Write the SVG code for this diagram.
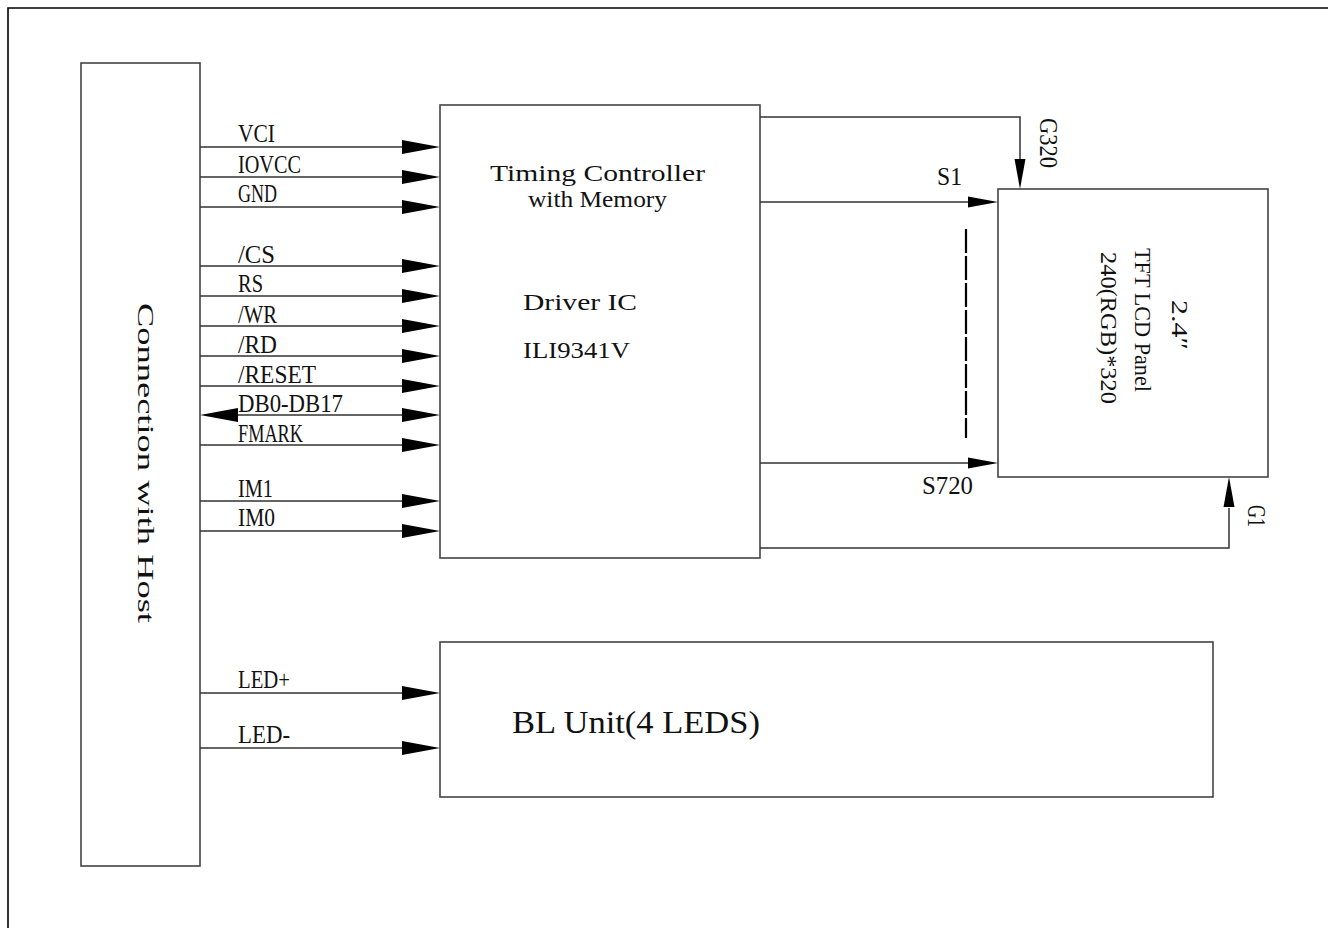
<svg xmlns="http://www.w3.org/2000/svg" xmlns:xlink="http://www.w3.org/1999/xlink" width="1328" height="928" viewBox="0 0 1328 928">
<style>
.box{fill:#fff;stroke:#444;stroke-width:1.6}
.ln{stroke:#333;stroke-width:1.5;fill:none}
.ah{fill:#000}
.t{font-family:"Liberation Serif",serif;fill:#111}
.lb{font-size:25px}
.md{font-size:23px}
</style>
<defs>
<path id="a" d="M0,0 L-38,-7 L-38,7 Z"/>
<path id="b" d="M0,0 L-30,-5.5 L-30,5.5 Z"/>
</defs>
<rect width="1328" height="928" fill="#fff"/>
<path d="M8,928 V8 H1328" fill="none" stroke="#000" stroke-width="1.6"/>
<g id="host">
<rect class="box" x="81" y="63" width="119" height="803"/>
<text class="t" font-size="24" transform="translate(138,303) rotate(90)" textLength="320" lengthAdjust="spacingAndGlyphs">Connection with Host</text>
</g>
<g id="driver">
<rect class="box" x="440" y="105" width="320" height="453"/>
<text class="t md" x="490" y="181" textLength="215" lengthAdjust="spacingAndGlyphs">Timing Controller</text>
<text class="t md" x="528" y="207" textLength="139" lengthAdjust="spacingAndGlyphs">with Memory</text>
<text class="t md" x="523" y="310" textLength="114" lengthAdjust="spacingAndGlyphs">Driver IC</text>
<text class="t md" x="523" y="358" textLength="107" lengthAdjust="spacingAndGlyphs">ILI9341V</text>
</g>
<g id="panel">
<rect class="box" x="998" y="189" width="270" height="288"/>
<text class="t" font-size="23" transform="translate(1172,300) rotate(90)" textLength="50" lengthAdjust="spacingAndGlyphs">2.4″</text>
<text class="t" font-size="23" transform="translate(1135,248) rotate(90)" textLength="144" lengthAdjust="spacingAndGlyphs">TFT LCD Panel</text>
<text class="t" font-size="23" transform="translate(1101,252) rotate(90)" textLength="152" lengthAdjust="spacingAndGlyphs">240(RGB)*320</text>
</g>
<g id="bl">
<rect class="box" x="440" y="642" width="773" height="155"/>
<text class="t" font-size="31" x="512" y="733" textLength="248" lengthAdjust="spacingAndGlyphs">BL Unit(4 LEDS)</text>
</g>
<g id="connectors">
<g class="ln">
<path d="M200,147H402M200,177H402M200,207H402M200,266H402M200,296H402M200,326H402M200,356H402M200,386H402M238,415H402M200,445H402M200,501H402M200,531H402M200,693H402M200,748H402"/>
<path d="M760,117H1020V160M760,202H968M760,463H968M760,548H1229V508"/>
<path d="M966,229V438" stroke="#000" stroke-width="2.2" stroke-dasharray="24,3"/>
</g>
<g class="ah">
<use xlink:href="#a" transform="translate(440,147)"/>
<use xlink:href="#a" transform="translate(440,177)"/>
<use xlink:href="#a" transform="translate(440,207)"/>
<use xlink:href="#a" transform="translate(440,266)"/>
<use xlink:href="#a" transform="translate(440,296)"/>
<use xlink:href="#a" transform="translate(440,326)"/>
<use xlink:href="#a" transform="translate(440,356)"/>
<use xlink:href="#a" transform="translate(440,386)"/>
<use xlink:href="#a" transform="translate(440,415)"/>
<use xlink:href="#a" transform="translate(200,415) rotate(180)"/>
<use xlink:href="#a" transform="translate(440,445)"/>
<use xlink:href="#a" transform="translate(440,501)"/>
<use xlink:href="#a" transform="translate(440,531)"/>
<use xlink:href="#a" transform="translate(440,693)"/>
<use xlink:href="#a" transform="translate(440,748)"/>
<use xlink:href="#b" transform="translate(998,202)"/>
<use xlink:href="#b" transform="translate(998,463)"/>
<use xlink:href="#b" transform="translate(1020,189) rotate(90)"/>
<use xlink:href="#b" transform="translate(1229,477) rotate(-90)"/>
</g>
<g class="t lb">
<text x="238" y="142" textLength="37" lengthAdjust="spacingAndGlyphs">VCI</text>
<text x="238" y="173" textLength="63" lengthAdjust="spacingAndGlyphs">IOVCC</text>
<text x="238" y="202" textLength="39" lengthAdjust="spacingAndGlyphs">GND</text>
<text x="238" y="263" textLength="37" lengthAdjust="spacingAndGlyphs">/CS</text>
<text x="238" y="292" textLength="25" lengthAdjust="spacingAndGlyphs">RS</text>
<text x="238" y="323" textLength="39" lengthAdjust="spacingAndGlyphs">/WR</text>
<text x="238" y="353" textLength="39" lengthAdjust="spacingAndGlyphs">/RD</text>
<text x="238" y="383" textLength="78" lengthAdjust="spacingAndGlyphs">/RESET</text>
<text x="238" y="412" textLength="105" lengthAdjust="spacingAndGlyphs">DB0-DB17</text>
<text x="238" y="442" textLength="65" lengthAdjust="spacingAndGlyphs">FMARK</text>
<text x="238" y="497" textLength="35" lengthAdjust="spacingAndGlyphs">IM1</text>
<text x="238" y="526" textLength="37" lengthAdjust="spacingAndGlyphs">IM0</text>
<text x="238" y="688" textLength="52" lengthAdjust="spacingAndGlyphs">LED+</text>
<text x="238" y="743" textLength="52" lengthAdjust="spacingAndGlyphs">LED-</text>
<text x="937" y="185" textLength="25" lengthAdjust="spacingAndGlyphs">S1</text>
<text x="922" y="494" textLength="51" lengthAdjust="spacingAndGlyphs">S720</text>
<text transform="translate(1040,118) rotate(90)" textLength="50" lengthAdjust="spacingAndGlyphs">G320</text>
<text transform="translate(1248,505) rotate(90)" textLength="22" lengthAdjust="spacingAndGlyphs">G1</text>
</g>
</g>
</svg>
